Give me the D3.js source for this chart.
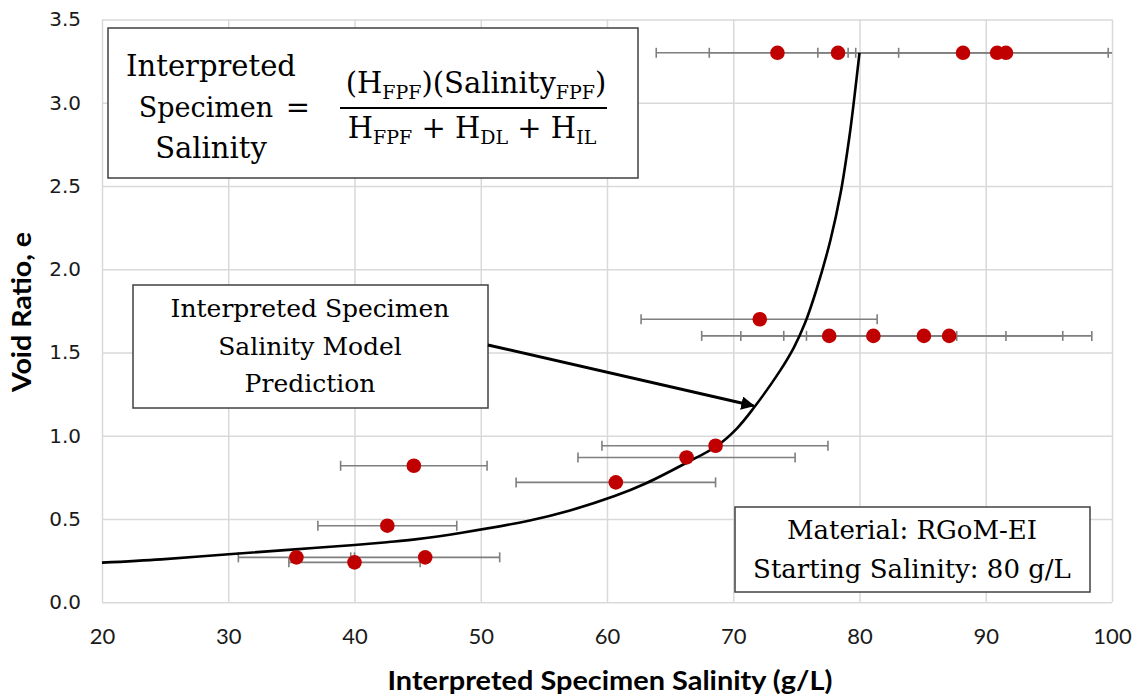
<!DOCTYPE html>
<html>
<head>
<meta charset="utf-8">
<script src="https://cdn.jsdelivr.net/npm/d3@7"></script>
<style>
  body { margin: 0; background: #fff; }
  .grid line { stroke: #d9d9d9; stroke-width: 1.5; }
  .grid .domain { display: none; }
  .ylab text { font-family: "DejaVu Sans", sans-serif; font-size: 20px; fill: #1a1a1a; }
  .xlab text { font-family: Lato, sans-serif; font-size: 22px; fill: #1a1a1a; }
  .ylab .domain, .xlab .domain { display: none; }
  .note { font-family: "DejaVu Serif", serif; fill: #000; }
</style>
</head>
<body>
<script>
// measured points
let salinity = [73.5, 78.3, 88.2, 90.9, 91.6, 72.1, 77.6, 81.1, 85.1, 87.1,
                68.6, 66.3, 60.7, 44.7, 42.6, 35.4, 40.0, 45.6];
let voidRatio = [3.3, 3.3, 3.3, 3.3, 3.3, 1.7, 1.6, 1.6, 1.6, 1.6,
                 0.94, 0.87, 0.72, 0.82, 0.46, 0.27, 0.24, 0.27];
let salinityLow = [63.9, 68.1, 76.7, 79.1, 79.7, 62.7, 67.5, 70.6, 74.0, 75.8,
                   59.6, 57.7, 52.8, 38.9, 37.1, 30.8, 34.8, 39.7];
let salinityHigh = [83.1, 88.5, 99.7, 102.7, 103.5, 81.4, 87.7, 91.6, 96.1, 98.4,
                    77.5, 74.9, 68.6, 50.5, 48.1, 40.0, 45.2, 51.5];

// model prediction curve
let modelSalinity = [20.0, 24.7, 30.3, 35.3, 40.0, 42.7, 44.8, 48.5, 53.8, 57.0, 60.6,
                     63.1, 66.3, 68.7, 70.3, 71.6, 73.7, 74.8, 75.7, 76.6, 77.7, 78.5, 79.2, 79.6, 80.0];
let modelVoid = [0.238, 0.258, 0.29, 0.318, 0.344, 0.362, 0.378, 0.418, 0.49, 0.55, 0.638,
                 0.715, 0.838, 0.939, 1.045, 1.165, 1.39, 1.53, 1.68, 1.88, 2.176, 2.456, 2.796, 3.037, 3.3];

let xTicks = [20, 30, 40, 50, 60, 70, 80, 90, 100];
let yTicks = [0, 0.5, 1.0, 1.5, 2.0, 2.5, 3.0, 3.5];

let svgWidth = 1142,
    svgHeight = 700,
    plot = { left: 102, right: 1112, top: 19.5, bottom: 602.3 };

let svg = d3.select("body").append("svg")
    .attr("width", svgWidth)
    .attr("height", svgHeight);

let x = d3.scaleLinear().domain([20, 100]).range([plot.left, plot.right]);
let y = d3.scaleLinear().domain([0, 3.5]).range([plot.bottom, plot.top]);

// gridlines
svg.append("g").attr("class", "grid")
    .attr("transform", "translate(0," + plot.bottom + ")")
    .call(d3.axisBottom(x).tickValues(xTicks).tickSize(-(plot.bottom - plot.top)).tickFormat(""));
svg.append("g").attr("class", "grid")
    .attr("transform", "translate(" + plot.left + ",0)")
    .call(d3.axisLeft(y).tickValues(yTicks).tickSize(-(plot.right - plot.left)).tickFormat(""));

// tick labels
svg.append("g").attr("class", "ylab")
    .attr("transform", "translate(" + plot.left + ",0)")
    .call(d3.axisLeft(y).tickValues(yTicks).tickSize(0).tickPadding(21).tickFormat(d3.format(".1f")));
svg.append("g").attr("class", "xlab")
    .attr("transform", "translate(0," + plot.bottom + ")")
    .call(d3.axisBottom(x).tickValues(xTicks).tickSize(0).tickPadding(26));
svg.selectAll(".ylab line, .xlab line").remove();

// axis titles
svg.append("text")
    .attr("x", (plot.left + plot.right) / 2 + 3)
    .attr("y", 690)
    .attr("text-anchor", "middle")
    .attr("textLength", 445)
    .attr("lengthAdjust", "spacingAndGlyphs")
    .style("font-family", "Lato, sans-serif")
    .style("font-weight", "bold")
    .style("font-size", "26px")
    .text("Interpreted Specimen Salinity (g/L)");

svg.append("text")
    .attr("transform", "translate(31," + 312 + ") rotate(-90)")
    .attr("text-anchor", "middle")
    .attr("textLength", 160)
    .attr("lengthAdjust", "spacingAndGlyphs")
    .style("font-family", "Lato, sans-serif")
    .style("font-weight", "bold")
    .style("font-size", "26px")
    .text("Void Ratio, e");

// error bars
let clip = v => Math.min(v, 100);
let bars = svg.append("g").attr("stroke", "#7f7f7f").attr("stroke-width", 1.6);
salinity.forEach((s, i) => {
    let yy = y(voidRatio[i]);
    bars.append("line")
        .attr("x1", x(salinityLow[i])).attr("x2", x(clip(salinityHigh[i])))
        .attr("y1", yy).attr("y2", yy);
    [salinityLow[i], salinityHigh[i]].filter(v => v <= 100).forEach(v => {
        bars.append("line")
            .attr("x1", x(v)).attr("x2", x(v))
            .attr("y1", yy - 5).attr("y2", yy + 5);
    });
});

// model curve
let line = d3.line()
    .x(d => x(d[0]))
    .y(d => y(d[1]))
    .curve(d3.curveCatmullRom.alpha(0.5));
svg.append("path")
    .datum(d3.zip(modelSalinity, modelVoid))
    .attr("d", line)
    .attr("fill", "none")
    .attr("stroke", "#000")
    .attr("stroke-width", 2.6);

// points
svg.append("g").selectAll("circle")
    .data(d3.zip(salinity, voidRatio))
    .join("circle")
    .attr("cx", d => x(d[0]))
    .attr("cy", d => y(d[1]))
    .attr("r", 7.3)
    .attr("fill", "#c00000");

// formula box
svg.append("rect")
    .attr("x", 108).attr("y", 28).attr("width", 530).attr("height", 150)
    .attr("fill", "#fff").attr("stroke", "#404040").attr("stroke-width", 1.5);

let leftLines = ["Interpreted", "Specimen", "Salinity"];
leftLines.forEach((t, i) => {
    svg.append("text").attr("class", "note")
        .attr("x", i == 1 ? 206 : 211).attr("y", 76 + i * 41)
        .attr("text-anchor", "middle")
        .style("font-size", i == 1 ? "27px" : "29px")
        .text(t);
});
svg.append("text").attr("class", "note")
    .attr("x", 298).attr("y", 117)
    .attr("text-anchor", "middle")
    .style("font-size", "29px")
    .text("=");

// subscripts drop 6px, the text after them comes back up
function addFormulaLine(parts, cx, by) {
    let t = svg.append("text").attr("class", "note")
        .attr("x", cx).attr("y", by)
        .attr("text-anchor", "middle")
        .style("font-size", "29px");
    let prevSub = false;
    parts.forEach(p => {
        let span = t.append("tspan").text(p.t);
        if (p.sub) span.attr("dy", 6).style("font-size", "19px");
        else if (prevSub) span.attr("dy", -6);
        prevSub = !!p.sub;
    });
}
addFormulaLine([{ t: "(H" }, { t: "FPF", sub: true }, { t: ")(Salinity" }, { t: "FPF", sub: true }, { t: ")" }], 476, 93);
svg.append("line")
    .attr("x1", 340).attr("x2", 607).attr("y1", 108).attr("y2", 108)
    .attr("stroke", "#000").attr("stroke-width", 2);
addFormulaLine([{ t: "H" }, { t: "FPF", sub: true }, { t: " + H" }, { t: "DL", sub: true }, { t: " + H" }, { t: "IL", sub: true }], 472, 138);

// model annotation
svg.append("rect")
    .attr("x", 133).attr("y", 285).attr("width", 355).attr("height", 123)
    .attr("fill", "#fff").attr("stroke", "#404040").attr("stroke-width", 1.5);
["Interpreted Specimen", "Salinity Model", "Prediction"].forEach((t, i) => {
    svg.append("text").attr("class", "note")
        .attr("x", 310).attr("y", 317 + i * 37.5)
        .attr("text-anchor", "middle")
        .style("font-size", "25px")
        .text(t);
});

svg.append("defs").append("marker")
    .attr("id", "arrow")
    .attr("viewBox", "0 0 10 10")
    .attr("refX", 9).attr("refY", 5)
    .attr("markerWidth", 4.5).attr("markerHeight", 4.5)
    .attr("orient", "auto")
    .append("path").attr("d", "M0,0 L10,5 L0,10 z").attr("fill", "#000");
svg.append("line")
    .attr("x1", 488).attr("y1", 345)
    .attr("x2", x(71.6)).attr("y2", y(1.18))
    .attr("stroke", "#000").attr("stroke-width", 3)
    .attr("marker-end", "url(#arrow)");

// material box
svg.append("rect")
    .attr("x", 735).attr("y", 507).attr("width", 355).attr("height", 85)
    .attr("fill", "#fff").attr("stroke", "#404040").attr("stroke-width", 1.5);
["Material: RGoM-EI", "Starting Salinity: 80 g/L"].forEach((t, i) => {
    svg.append("text").attr("class", "note")
        .attr("x", 912).attr("y", 539 + i * 39)
        .attr("text-anchor", "middle")
        .style("font-size", "26px")
        .text(t);
});
</script>
</body>
</html>
